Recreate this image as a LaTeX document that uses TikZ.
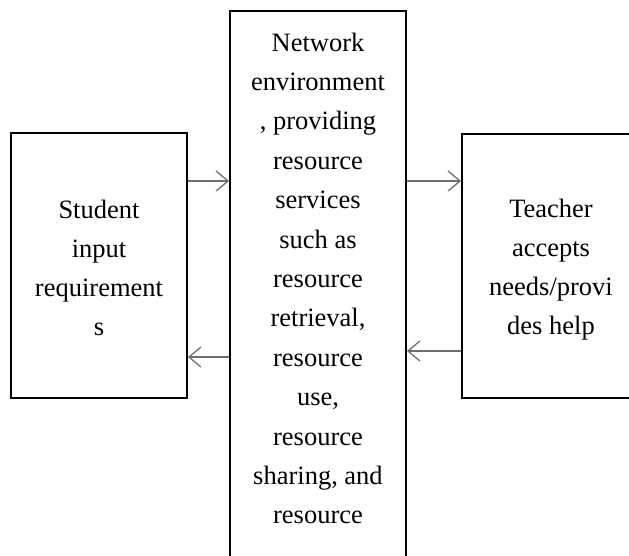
\documentclass[tikz,border=0pt]{standalone}
\usepackage{fontspec}
\setmainfont{Liberation Serif}
\usetikzlibrary{arrows.meta}
\definecolor{arrgray}{RGB}{110,110,110}
\begin{document}
\begin{tikzpicture}[x=1pt,y=-1pt,
  txt/.style={align=center,inner sep=0pt,font=\fontsize{26.5}{39}\selectfont},
  box/.style={txt,draw=black,line width=1.8pt},
  link/.style={draw=arrgray,line width=1.3pt,-{Straight Barb[length=12pt,width=20pt,line width=1.3pt]}}]
\useasboundingbox (0,0) rectangle (629,556);
\clip (0,0) rectangle (629,556);
\node[box,minimum width=176pt,minimum height=265pt] (stu) at (99,265.5) {};
\node[txt] (stutext) at (99,268) {Student\\input\\requirement\\s};
\node[box,minimum width=176pt,minimum height=590pt] (mid) at (318,306) {};
\node[box,minimum width=178pt,minimum height=264pt] (tea) at (551,266) {};
\node[txt] (teatext) at (551,269.5) {Teacher\\accepts\\needs/provi\\des help};
\node[txt,font=\fontsize{26.5}{39.4}\selectfont] (midtext) at (318,278.5) {Network\\environment\\, providing\\resource\\services\\such as\\resource\\retrieval,\\resource\\use,\\resource\\sharing, and\\resource};
\coordinate (ra) at (0,181);
\coordinate (rb) at (0,357);
\coordinate (rc) at (0,351);
\draw[link] (stu.east |- ra) -- (mid.west |- ra);
\draw[link] (mid.west |- rb) -- (stu.east |- rb);
\draw[link] (mid.east |- ra) -- (tea.west |- ra);
\draw[link] (tea.west |- rc) -- (mid.east |- rc);
\end{tikzpicture}
\end{document}
